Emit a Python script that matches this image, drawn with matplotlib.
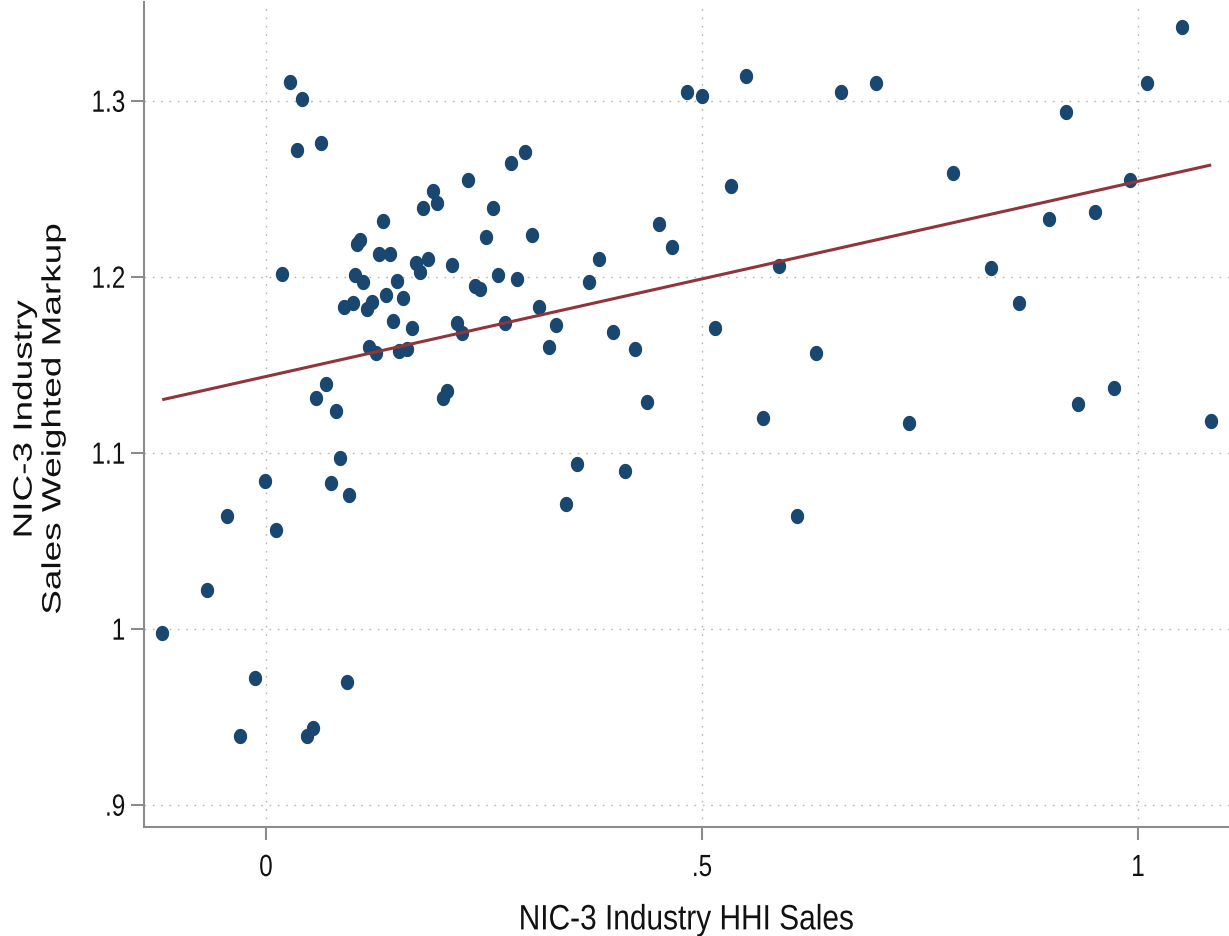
import numpy as np
import matplotlib
matplotlib.use("Agg")
import matplotlib.pyplot as plt
from matplotlib import patheffects
from matplotlib.transforms import Affine2D

# ---------------- data ----------------
hhi_sales = [
    -0.119, -0.068, -0.045, -0.030, -0.013, -0.001, 0.012, 0.018, 0.028, 0.036,
    0.041, 0.047, 0.054, 0.057, 0.063, 0.069, 0.075, 0.080, 0.085, 0.089,
    0.093, 0.095, 0.100, 0.102, 0.104, 0.108, 0.111, 0.116, 0.118, 0.122,
    0.126, 0.130, 0.134, 0.138, 0.142, 0.146, 0.150, 0.153, 0.157, 0.162,
    0.167, 0.172, 0.177, 0.180, 0.186, 0.192, 0.196, 0.203, 0.208, 0.213,
    0.219, 0.225, 0.232, 0.240, 0.245, 0.252, 0.260, 0.266, 0.274, 0.281,
    0.288, 0.297, 0.305, 0.313, 0.325, 0.333, 0.344, 0.357, 0.370, 0.382,
    0.398, 0.412, 0.423, 0.437, 0.451, 0.466, 0.483, 0.500, 0.515, 0.533,
    0.551, 0.570, 0.588, 0.609, 0.631, 0.660, 0.700, 0.737, 0.788, 0.832,
    0.864, 0.898, 0.917, 0.931, 0.951, 0.973, 0.991, 1.010, 1.051, 1.084,
]
weighted_markup = [
    0.998, 1.022, 1.064, 0.939, 0.972, 1.084, 1.056, 1.202, 1.311, 1.272,
    1.301, 0.939, 0.944, 1.131, 1.276, 1.139, 1.083, 1.124, 1.097, 1.183,
    0.970, 1.076, 1.185, 1.201, 1.219, 1.221, 1.197, 1.182, 1.160, 1.186,
    1.157, 1.213, 1.232, 1.190, 1.213, 1.175, 1.198, 1.158, 1.188, 1.159,
    1.171, 1.208, 1.203, 1.239, 1.210, 1.249, 1.242, 1.131, 1.135, 1.207,
    1.174, 1.168, 1.255, 1.195, 1.193, 1.223, 1.239, 1.201, 1.174, 1.265,
    1.199, 1.271, 1.224, 1.183, 1.160, 1.173, 1.071, 1.094, 1.197, 1.210,
    1.169, 1.090, 1.159, 1.129, 1.230, 1.217, 1.305, 1.303, 1.171, 1.252,
    1.314, 1.120, 1.206, 1.064, 1.157, 1.305, 1.310, 1.117, 1.259, 1.205,
    1.185, 1.233, 1.294, 1.128, 1.237, 1.137, 1.255, 1.310, 1.342, 1.118,
]
# linear fit shown in the reference
fit_intercept = 1.1435
fit_slope = 0.1109

x_ticks = [0, 0.5, 1]
x_tick_labels = ["0", ".5", "1"]
y_ticks = [0.9, 1.0, 1.1, 1.2, 1.3]
y_tick_labels = [".9", "1", "1.1", "1.2", "1.3"]
x_title = "NIC-3 Industry HHI Sales"
y_title = "NIC-3 Industry\nSales Weighted Markup"

# ---------------- style ----------------
plt.rcParams["font.family"] = ["Liberation Sans", "DejaVu Sans"]
MARKER_COLOR = "#1a476f"
LINE_COLOR = "#90353b"
AXIS_GREY = "#8c8c8c"
GRID_GREY = "#b4b4b4"


class Stretch(patheffects.AbstractPathEffect):
    """Stretch glyphs about their own centre (the reference image is taller than wide)."""

    def __init__(self, sx=1.0, sy=1.0):
        super().__init__()
        self.sx, self.sy = sx, sy

    def draw_path(self, renderer, gc, tpath, affine, rgbFace=None):
        ext = tpath.get_extents()
        cx = 0.5 * (ext.x0 + ext.x1)
        cy = 0.5 * (ext.y0 + ext.y1)
        pre = Affine2D().translate(-cx, -cy).scale(self.sx, self.sy).translate(cx, cy)
        renderer.draw_path(gc, tpath, pre + affine, rgbFace)


fig = plt.figure(figsize=(12.29, 9.37), dpi=100)
ax = fig.add_axes([144 / 1229, 1 - 828 / 937, 1 - 144 / 1229, (828 - 3) / 937])

x = np.asarray(hhi_sales)
y = np.asarray(weighted_markup)

# elliptical marker (reference dots are slightly taller than wide)
t = np.linspace(0, 2 * np.pi, 60)
ellipse = np.column_stack([0.435 * np.cos(t), 0.5 * np.sin(t)])

ax.plot(x, y, linestyle="none", marker=ellipse, markersize=11,
        markerfacecolor=MARKER_COLOR, markeredgewidth=0, zorder=3)

# linear fit line over the data range
xs = np.array([x.min(), x.max()])
ax.plot(xs, fit_intercept + fit_slope * xs, color=LINE_COLOR, linewidth=2.2, zorder=4,
        solid_capstyle="butt")

ax.set_xlim(-0.1399, 1.1044)
ax.set_ylim(0.8875, 1.3563)

ax.set_xticks(x_ticks, x_tick_labels)
ax.set_yticks(y_ticks, y_tick_labels)

ax.grid(True, linestyle=(0, (1.2, 4.8)), color=GRID_GREY, linewidth=1.0)
ax.set_axisbelow(True)

for side in ("top", "right"):
    ax.spines[side].set_visible(False)
for side in ("left", "bottom"):
    ax.spines[side].set_color(AXIS_GREY)
    ax.spines[side].set_linewidth(1.5)

ax.tick_params(axis="both", direction="out", length=9.5, width=1.5, color=AXIS_GREY,
               labelsize=17.5, labelcolor="#111111")
ax.tick_params(axis="x", pad=12)
ax.tick_params(axis="y", pad=4)

for lbl in ax.get_xticklabels() + ax.get_yticklabels():
    lbl.set_path_effects([Stretch(1.0, 1.26)])

fig.text(686.5 / 1229, 1 - 929 / 937, x_title, ha="center", va="baseline",
         fontsize=21.5, color="#111111", path_effects=[Stretch(1.0, 1.18)])

fig.text(39 / 1229, 1 - 420 / 937, y_title, ha="center", va="center",
         rotation=90, multialignment="center", linespacing=1.25,
         fontsize=19, color="#111111", path_effects=[Stretch(1.4, 1.0)])

fig.savefig("out.png", dpi=100)
